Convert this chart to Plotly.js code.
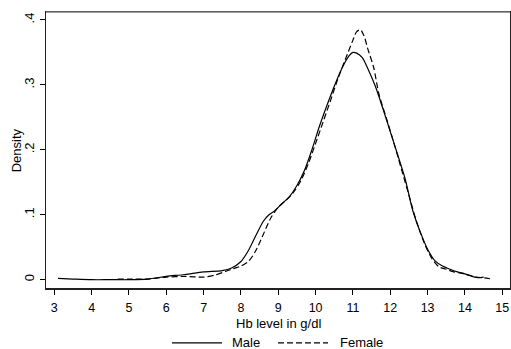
<!DOCTYPE html>
<html>
<head>
<meta charset="utf-8">
<script src="https://cdn.plot.ly/plotly-3.0.1.min.js"></script>
<style>html,body{margin:0;padding:0;background:#fff;}#chart{width:511px;height:349px;}</style>
</head>
<body>
<div id="chart"></div>
<script>
const maleX = [3.1,3.5,4.0,4.5,5.0,5.5,6.0,6.5,7.0,7.5,7.75,8.0,8.2,8.4,8.6,8.75,8.9,9.1,9.3,9.5,9.7,9.9,10.1,10.3,10.5,10.7,10.9,11.0,11.1,11.25,11.4,11.6,11.8,12.0,12.2,12.4,12.6,12.8,13.0,13.2,13.4,13.6,13.8,14.0,14.2,14.35,14.5];
const maleY = [0.002,0.001,0.0,0.0,0.0,0.001,0.005,0.008,0.012,0.014,0.018,0.028,0.045,0.068,0.09,0.1,0.106,0.117,0.128,0.145,0.168,0.2,0.236,0.268,0.298,0.325,0.345,0.35,0.349,0.342,0.325,0.298,0.264,0.228,0.192,0.155,0.107,0.074,0.047,0.029,0.021,0.016,0.012,0.009,0.005,0.003,0.004];
const femaleX = [4.7,5.0,5.5,6.0,6.5,7.0,7.3,7.6,7.8,8.0,8.2,8.4,8.6,8.8,9.0,9.2,9.4,9.6,9.8,10.0,10.2,10.4,10.6,10.8,11.0,11.1,11.2,11.3,11.4,11.55,11.7,11.9,12.1,12.3,12.5,12.7,12.9,13.1,13.3,13.5,13.7,13.9,14.1,14.3,14.5,14.67];
const femaleY = [0.001,0.001,0.001,0.004,0.005,0.004,0.007,0.013,0.017,0.021,0.028,0.045,0.07,0.095,0.112,0.122,0.134,0.152,0.178,0.21,0.243,0.276,0.31,0.34,0.369,0.382,0.385,0.375,0.355,0.328,0.285,0.248,0.21,0.17,0.13,0.09,0.058,0.034,0.02,0.016,0.012,0.01,0.007,0.004,0.003,0.0015];
const xTicks = [3,4,5,6,7,8,9,10,11,12,13,14,15];
const yTicks = [0,0.1,0.2,0.3,0.4];
const yTickLabels = ["0",".1",".2",".3",".4"];
const seriesNames = ["Male","Female"];
const xTitle = "Hb level in g/dl";
const yTitle = "Density";

const font = {family: "Liberation Sans, Arial, sans-serif", size: 13, color: "#000"};
const traces = [
  {x: maleX, y: maleY, name: seriesNames[0], type: "scatter", mode: "lines",
   line: {color: "#000", width: 1.2, shape: "spline", smoothing: 0.8}},
  {x: femaleX, y: femaleY, name: seriesNames[1], type: "scatter", mode: "lines",
   line: {color: "#000", width: 1.2, dash: "6px,3px", shape: "spline", smoothing: 0.8}}
];
// manual legend (paper coordinates)
const legY = -0.199;
const shapes = [
  {type: "line", xref: "paper", yref: "paper", x0: 0, x1: 1, y0: 1, y1: 1,
   line: {color: "#7a7a7a", width: 1.5}},
  {type: "line", xref: "paper", yref: "paper", x0: 0.2716, x1: 0.3793, y0: legY, y1: legY,
   line: {color: "#000", width: 1.2}},
  {type: "line", xref: "paper", yref: "paper", x0: 0.5, x1: 0.6078, y0: legY, y1: legY,
   line: {color: "#000", width: 1.2, dash: "6px,3px"}}
];
const annotations = [
  {xref: "paper", yref: "paper", x: 0.3966, y: legY, xanchor: "left", yanchor: "middle",
   text: seriesNames[0], showarrow: false, font: {size: 13}},
  {xref: "paper", yref: "paper", x: 0.6293, y: legY, xanchor: "left", yanchor: "middle",
   text: seriesNames[1], showarrow: false, font: {size: 13}},
  {xref: "paper", yref: "paper", x: 0.5, y: -0.127, xanchor: "center", yanchor: "middle",
   text: xTitle, showarrow: false, font: {size: 13}, borderpad: 0},
  {xref: "paper", yref: "paper", x: -0.064, y: 0.5, xanchor: "center", yanchor: "middle",
   text: yTitle, showarrow: false, textangle: -90, font: {size: 13}}
];
const layout = {
  width: 511, height: 349,
  margin: {l: 46, r: 1, t: 12, b: 61},
  paper_bgcolor: "#fff", plot_bgcolor: "#fff",
  font: font,
  showlegend: false,
  shapes: shapes,
  annotations: annotations,
  xaxis: {range: [2.778, 15.207], tickvals: xTicks, ticktext: xTicks.map(String),
          ticks: "outside", ticklen: 5, tickcolor: "#000", tickwidth: 1, ticklabelstandoff: 2,
          showgrid: false, zeroline: false, showline: true, linecolor: "#222", linewidth: 1.5,
          mirror: true, tickfont: {size: 12.5}, automargin: false},
  yaxis: {range: [-0.0128, 0.4123], tickvals: yTicks, ticktext: yTickLabels,
          ticks: "outside", ticklen: 5, tickcolor: "#000", tickwidth: 1, tickangle: -90,
          showgrid: false, zeroline: false, showline: true, linecolor: "#222", linewidth: 1.5,
          mirror: true, tickfont: {size: 13}, automargin: false}
};
Plotly.newPlot("chart", traces, layout, {displayModeBar: false, staticPlot: true});
</script>
</body>
</html>
